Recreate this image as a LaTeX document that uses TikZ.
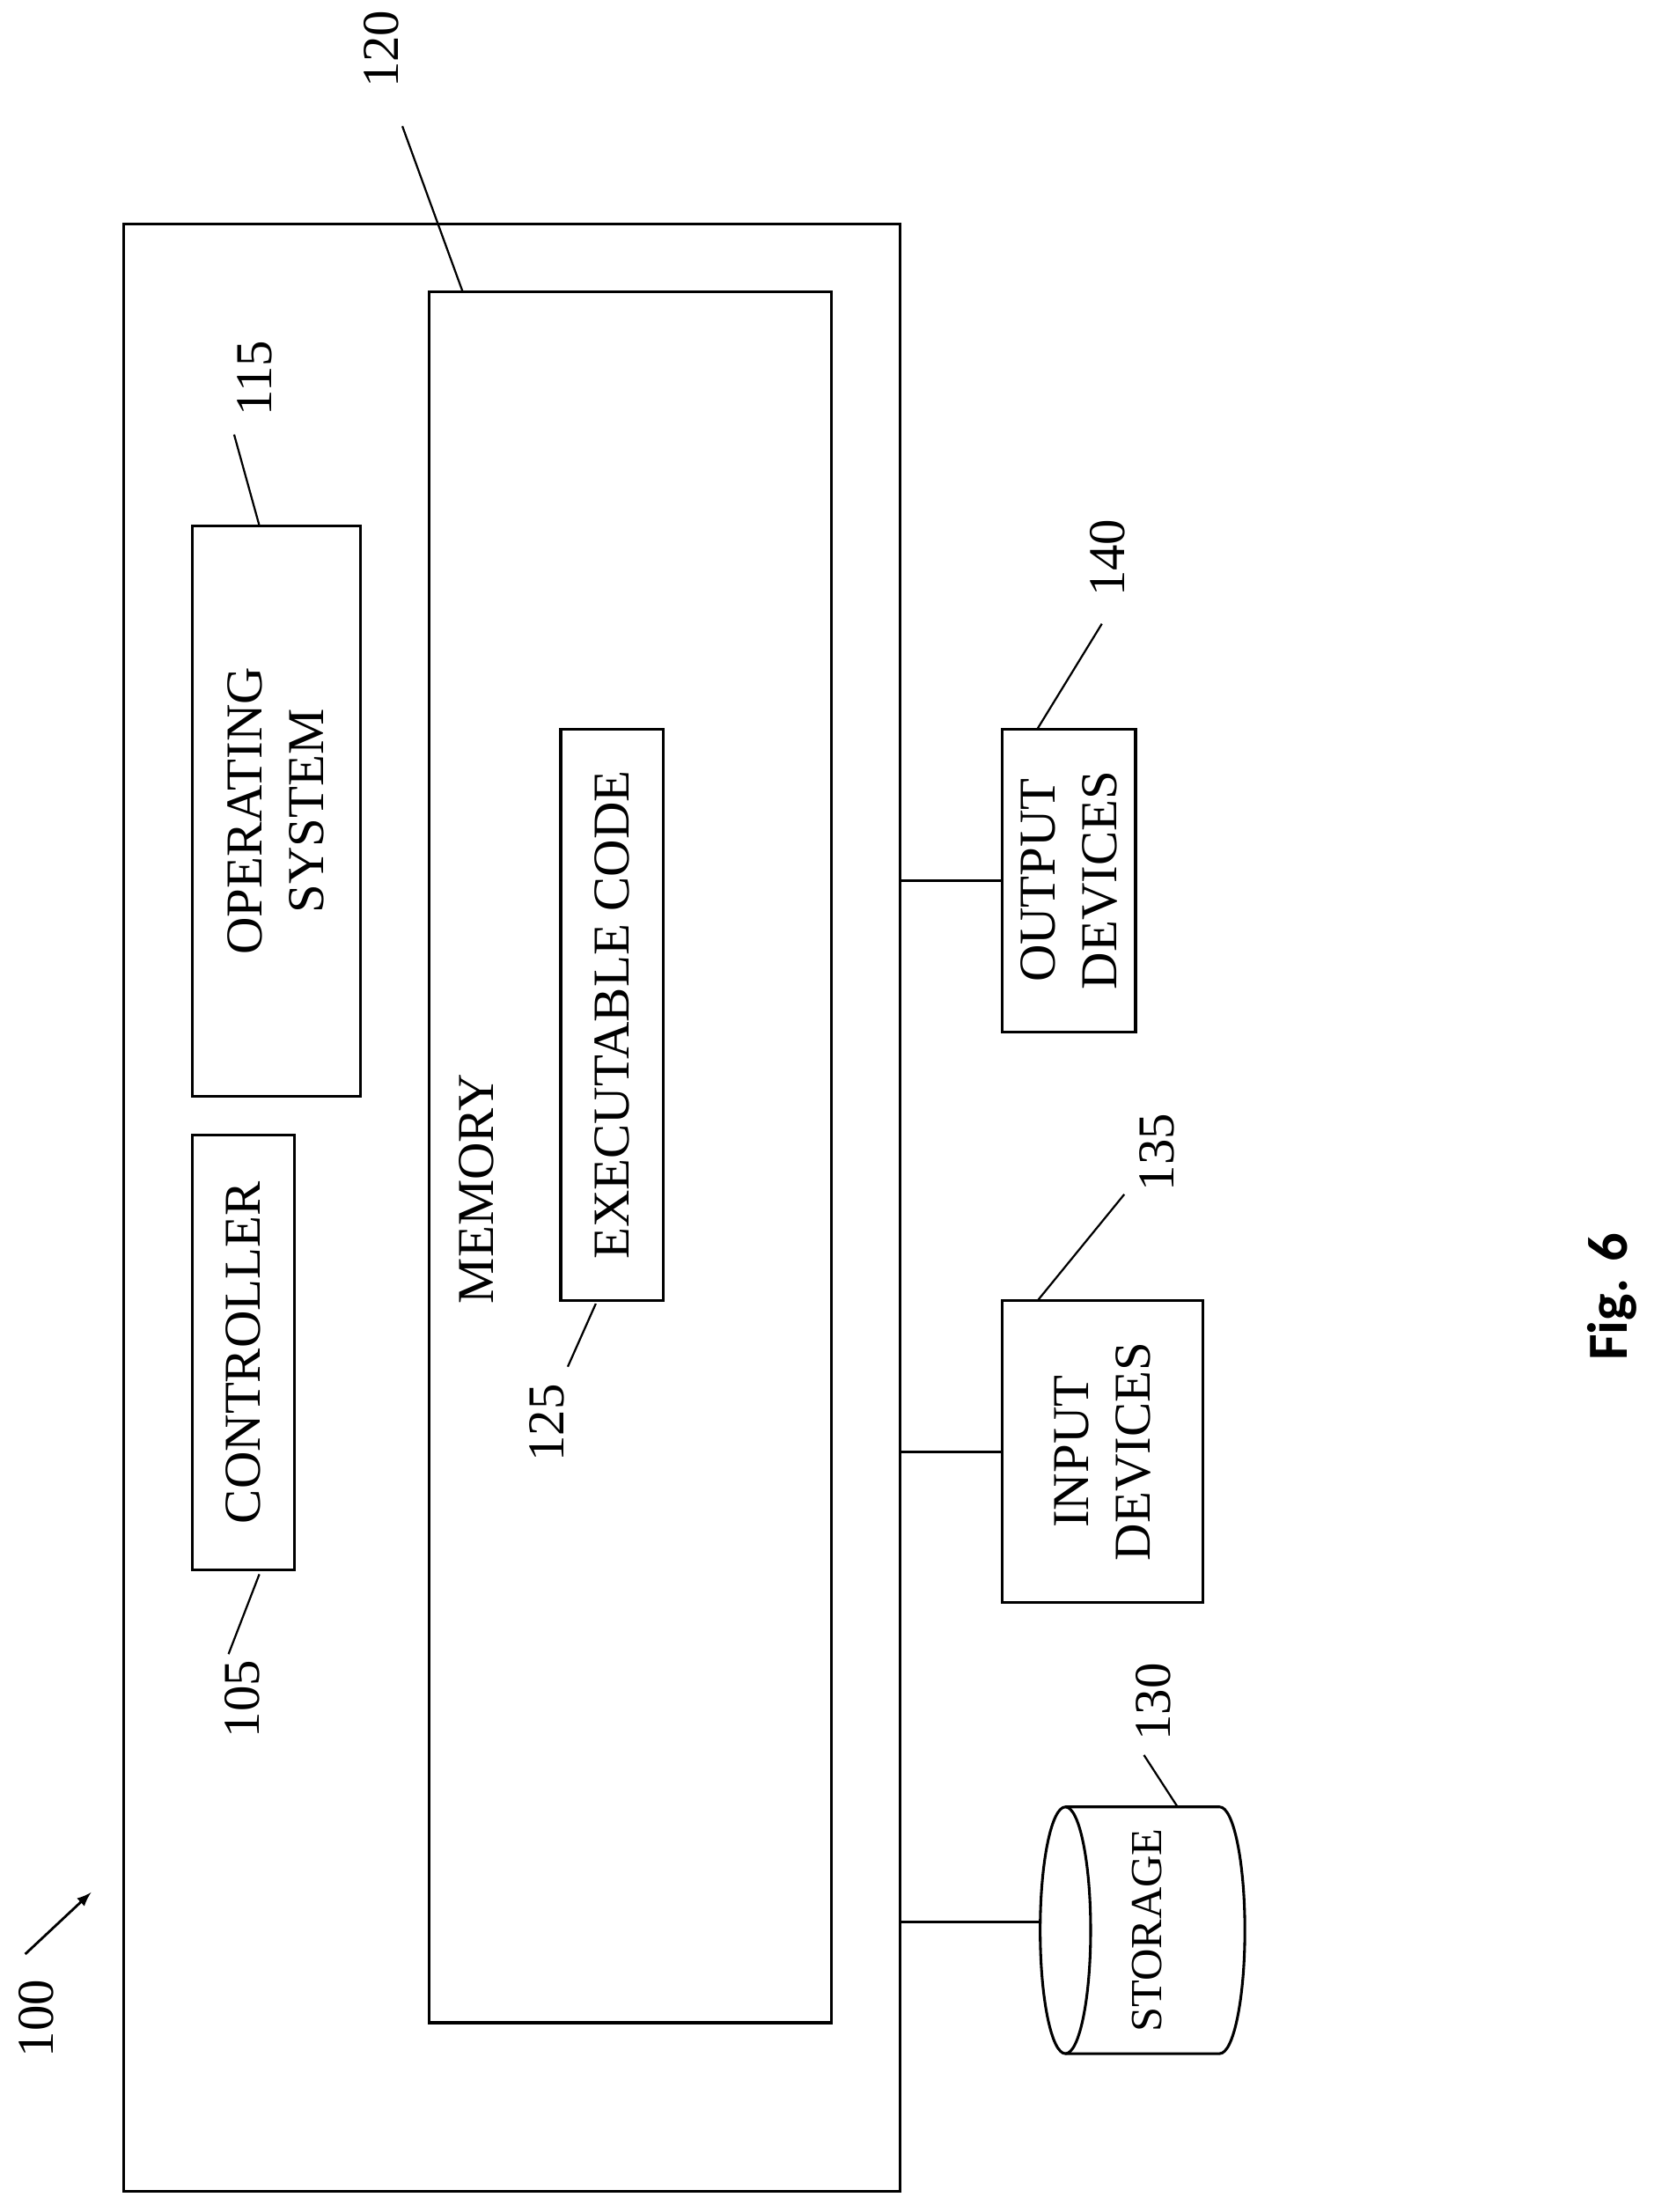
\documentclass[tikz,border=0pt]{standalone}
\usepackage{fontspec}
\setmainfont{Liberation Serif}
\newfontfamily\figfont{Carlito}
\begin{document}
\begin{tikzpicture}[x=0.02cm,y=-0.02cm,line width=1.1pt,
  box/.style={draw,rectangle,inner sep=0pt},
  txt/.style={rotate=90,font=\fontsize{21}{25}\selectfont,align=center},
  lead/.style={line width=0.8pt}]
\useasboundingbox (0,0) rectangle (1190,1578);
% outer frame and memory
\node[box,minimum width=554*0.02cm,minimum height=1403*0.02cm] (sys) at (365,861.5) {};
\node[box,minimum width=287*0.02cm,minimum height=1235*0.02cm] (mem) at (449.5,825.5) {};
\node[txt] (memlbl) at (340,848) {MEMORY};
% boxes inside
\node[box,minimum width=120*0.02cm,minimum height=407*0.02cm] (os) at (197,578.5) {};
\node[txt] at (os) {OPERATING\\SYSTEM};
\node[box,minimum width=73*0.02cm,minimum height=310*0.02cm] (ctrl) at (173.5,965) {};
\node[txt] at (ctrl) {CONTROLLER};
\node[box,minimum width=73*0.02cm,minimum height=408*0.02cm] (code) at (436.5,724) {};
\node[txt] at (code) {EXECUTABLE CODE};
% devices
\node[box,minimum width=95*0.02cm,minimum height=216*0.02cm] (out) at (762.5,628) {};
\node[txt] at (out) {OUTPUT\\DEVICES};
\node[box,minimum width=143*0.02cm,minimum height=215*0.02cm] (in) at (786.5,1035.5) {};
\node[txt] at (in) {INPUT\\DEVICES};
% storage cylinder
\coordinate (stor) at (760,1377);
\draw (760,1289) -- (870,1289) arc[start angle=-90,end angle=90,x radius=18,y radius=88] -- (760,1465);
\draw (stor) ellipse[x radius=18,y radius=88];
\node[txt,font=\fontsize{18}{22}\selectfont] (storlbl) at (818,1377) {STORAGE};
\coordinate (storin) at (742,1371);
% bus
\coordinate (bo) at (sys.east |- out);
\coordinate (bi) at (sys.east |- in);
\coordinate (bs) at (sys.east |- storin);
\draw (bo) -- (out.west);
\draw (bi) -- (in.west);
\draw (bs) -- (storin);
% reference numerals
\node[txt] (n120) at (272,35) {120};
\draw[lead] (287,90) -- (330,208);
\node[txt] (n115) at (182,270) {115};
\draw[lead] (167,310) -- (185,375);
\node[txt] (n105) at (173,1212) {105};
\draw[lead] (163,1180) -- (185,1123);
\node[txt] (n125) at (390,1015) {125};
\draw[lead] (405,975) -- (425,930);
\node[txt] (n140) at (790,398) {140};
\draw[lead] (786,445) -- (740,520);
\node[txt] (n135) at (825,822) {135};
\draw[lead] (802,852) -- (740,928);
\node[txt] (n130) at (823,1214) {130};
\draw[lead] (816,1252) -- (840,1289);
\node[txt] (n100) at (26,1440) {100};
\draw[-latex,line width=1pt] (18,1394) -- (65,1350);
% figure label
\node[rotate=90,font=\figfont\bfseries\fontsize{23}{27}\selectfont] (fig) at (1150,925) {Fig. 6};
\end{tikzpicture}
\end{document}
